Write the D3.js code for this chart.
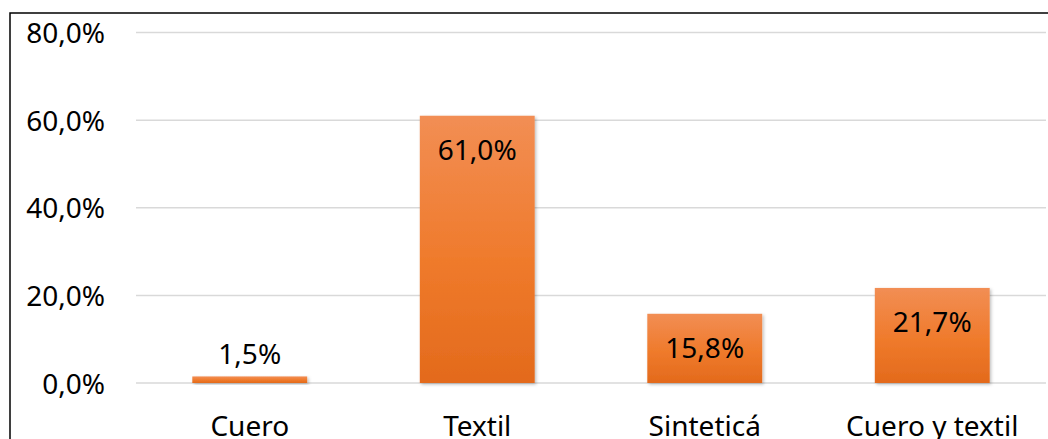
<!DOCTYPE html>
<html><head><meta charset="utf-8">
<script src="https://cdn.jsdelivr.net/npm/d3@7"></script>
<style>body{margin:0;background:#fff;overflow:hidden}svg{display:block}</style>
</head><body>
<script>
const categories = ["Cuero", "Textil", "Sinteticá", "Cuero y textil"];
const values = [1.5, 61.0, 15.8, 21.7];
const labels = ["1,5%", "61,0%", "15,8%", "21,7%"];
const yTicks = [0, 20, 40, 60, 80];
const yTickLabels = ["0,0%", "20,0%", "40,0%", "60,0%", "80,0%"];

const W = 1048, H = 439;
const svg = d3.select("body").append("svg").attr("width", W).attr("height", H);
const font = "'Noto Sans', 'Open Sans', sans-serif";
const fs = 28;

const defs = svg.append("defs");
const g = defs.append("linearGradient").attr("id", "bg").attr("x1", 0).attr("y1", 0).attr("x2", 0).attr("y2", 1);
g.append("stop").attr("offset", "0%").attr("stop-color", "#F28E54");
g.append("stop").attr("offset", "55%").attr("stop-color", "#EF7A2B");
g.append("stop").attr("offset", "100%").attr("stop-color", "#E36A1C");
const f = defs.append("filter").attr("id", "sh").attr("x", "-10%").attr("y", "-10%").attr("width", "130%").attr("height", "130%");
f.append("feDropShadow").attr("dx", 1.5).attr("dy", 1.5).attr("stdDeviation", 1.5).attr("flood-color", "#000").attr("flood-opacity", 0.25);

const x = d3.scaleBand().domain(categories).range([136, 1046]).paddingInner(0.495).paddingOuter(0.2475);
const y = d3.scaleLinear().domain([0, 80]).range([383, 32.5]);

// gridlines
svg.append("g").selectAll("line").data(yTicks).join("line")
  .attr("x1", 136).attr("x2", 1046)
  .attr("y1", d => y(d)).attr("y2", d => y(d))
  .attr("stroke", "#d9d9d9").attr("stroke-width", 1.5);

// y axis labels
const yAxis = svg.append("g").attr("transform", "translate(105,0)")
  .call(d3.axisLeft(y).tickValues(yTicks).tickSize(0).tickPadding(0).tickFormat((d, i) => yTickLabels[i]));
yAxis.select(".domain").remove();
yAxis.selectAll("text").attr("font-family", font).attr("font-size", fs).attr("fill", "#000").attr("dy", "0.36em");

// bars
svg.append("g").selectAll("rect").data(values).join("rect")
  .attr("x", (d, i) => x(categories[i]))
  .attr("width", x.bandwidth())
  .attr("y", d => y(d))
  .attr("height", d => y(0) - y(d))
  .attr("fill", "url(#bg)")
  .attr("filter", "url(#sh)");

// value labels
svg.append("g").selectAll("text").data(values).join("text")
  .attr("x", (d, i) => x(categories[i]) + x.bandwidth() / 2)
  .attr("y", d => (y(0) - y(d) > 50) ? y(d) + 44 : y(d) - 12)
  .attr("text-anchor", "middle")
  .attr("font-family", font).attr("font-size", fs).attr("fill", "#000")
  .text((d, i) => labels[i]);

// x axis labels
const xAxis = svg.append("g").attr("transform", "translate(0,383)")
  .call(d3.axisBottom(x).tickSize(0).tickPadding(0));
xAxis.select(".domain").remove();
xAxis.selectAll("text").attr("font-family", font).attr("font-size", fs).attr("fill", "#000")
  .attr("dy", null).attr("y", 53);

// chart border
svg.append("path").attr("d", `M10,${H + 2} L10,13 L${W + 2},13`)
  .attr("fill", "none").attr("stroke", "#000").attr("stroke-width", 1.5);
</script>
</body></html>
